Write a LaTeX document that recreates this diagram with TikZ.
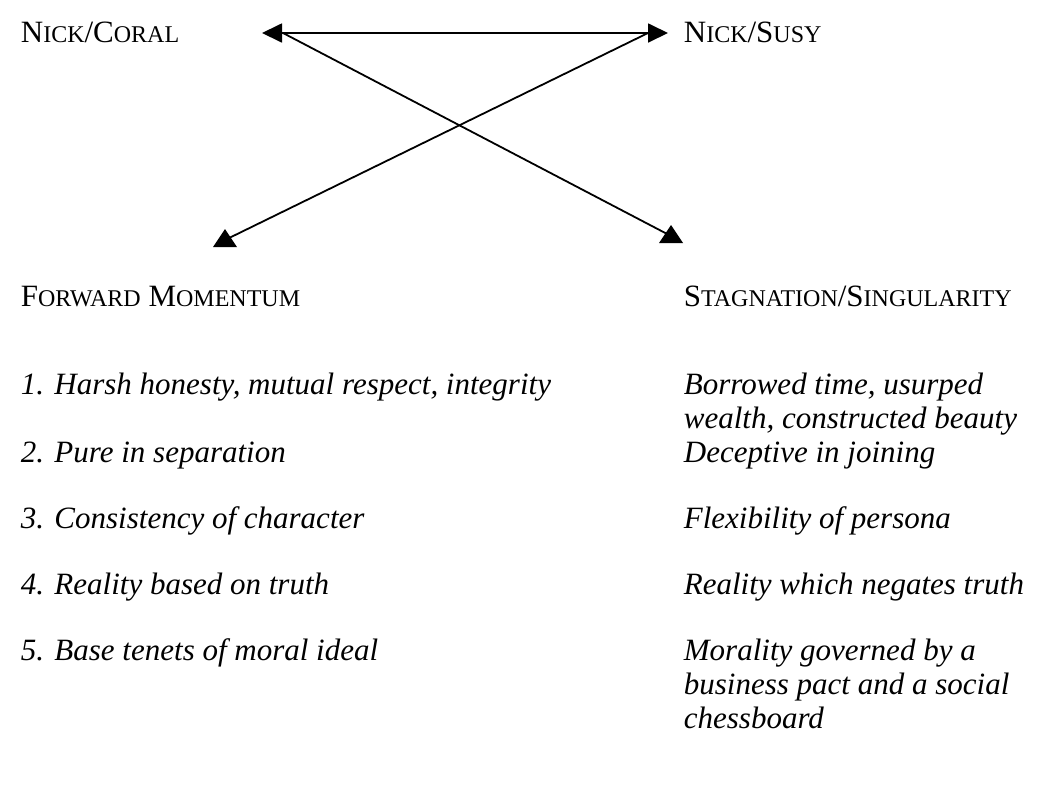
\documentclass[tikz,border=0pt]{standalone}
\usepackage{fontspec}
\setmainfont{Liberation Serif}
\usetikzlibrary{arrows.meta}

\newcommand{\smc}[1]{{\fontsize{12}{12}\selectfont #1}}

\begin{document}
\begin{tikzpicture}[x=0.5pt, y=-0.5pt, >={Triangle[length=10pt,width=9.5pt]}, line width=0.9pt]
            \tikzstyle{pair} = [anchor=base west, inner sep=0pt, font=\fontsize{15.5}{17}\selectfont]
            \tikzstyle{entry} = [pair, align=left, font=\fontsize{15.5}{17}\selectfont\itshape]

            \useasboundingbox (0,0) rectangle (1038,810);

            % Pairs
            \node[pair] (coral) at (20,42) {N\smc{ICK}/C\smc{ORAL}};
            \node[pair] (susy) at (683,42) {N\smc{ICK}/S\smc{USY}};
            \coordinate (cl) at (262,33);
            \coordinate (cr) at (668,33);
            \coordinate (clb) at (283,33);
            \coordinate (crb) at (648,33);
            \coordinate (fwd) at (225,240);
            \coordinate (stag) at (671,236);

            % Edges
            \draw[<->] (cl) -- (cr);
            \draw (clb) -- (stag);
            \draw (crb) -- (fwd);
            \foreach \t in {fwd, stag}
                \fill (\t) ++(0,-11) -- ++(12,18) -- ++(-24,0) -- cycle;

            % Columns (base of a node with two or more lines is its last line)
            \node[pair] (momentum) at (20,306) {F\smc{ORWARD} M\smc{OMENTUM}};
            \node[pair] (stagnation) at (683,306) {S\smc{TAGNATION}/S\smc{INGULARITY}};

            \node[entry] (f1) at (20,394) {1. Harsh honesty, mutual respect, integrity};
            \node[entry] (f2) at (20,462) {2. Pure in separation};
            \node[entry] (f3) at (20,528) {3. Consistency of character};
            \node[entry] (f4) at (20,594) {4. Reality based on truth};
            \node[entry] (f5) at (20,660) {5. Base tenets of moral ideal};

            \node[entry] (s1) at (683,428) {Borrowed time, usurped\\wealth, constructed beauty};
            \node[entry] (s2) at (683,462) {Deceptive in joining};
            \node[entry] (s3) at (683,528) {Flexibility of persona};
            \node[entry] (s4) at (683,594) {Reality which negates truth};
            \node[entry] (s5) at (683,728) {Morality governed by a\\business pact and a social\\chessboard};

        \end{tikzpicture}
\end{document}
